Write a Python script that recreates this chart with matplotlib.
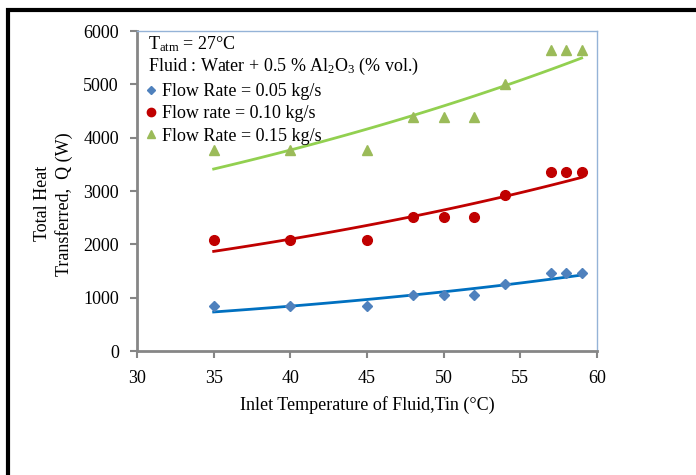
import matplotlib.pyplot as plt
import numpy as np
from matplotlib.lines import Line2D
from matplotlib.patches import Rectangle

plt.rcParams['font.family'] = 'Liberation Serif'
plt.rcParams['mathtext.fontset'] = 'custom'
plt.rcParams['mathtext.rm'] = 'Liberation Serif'
plt.rcParams['mathtext.it'] = 'Liberation Serif:italic'

# data
inlet_temp = [35, 40, 45, 48, 50, 52, 54, 57, 58, 59]
q_005 = [835, 835, 835, 1050, 1050, 1050, 1250, 1470, 1470, 1470]
q_010 = [2090, 2090, 2090, 2510, 2510, 2510, 2930, 3350, 3350, 3350]
q_015 = [3760, 3760, 3760, 4390, 4390, 4390, 5000, 5640, 5640, 5640]
x_ticks = [30, 35, 40, 45, 50, 55, 60]
y_ticks = [0, 1000, 2000, 3000, 4000, 5000, 6000]

series = [
    (q_005, 'D', '#4F81BD', '#0070C0', 'Flow Rate = 0.05 kg/s', 5),
    (q_010, 'o', '#C00000', '#C00000', 'Flow rate = 0.10 kg/s', 7),
    (q_015, '^', '#9BBB59', '#92D050', 'Flow Rate = 0.15 kg/s', 7),
]

fig = plt.figure(figsize=(6.96, 4.75), dpi=100)
ax = fig.add_axes([137 / 696, 1 - 351 / 475, 460 / 696, 320 / 475])

x = np.array(inlet_temp, dtype=float)
handles = []
for vals, mk, mcol, lcol, lab, ms in series:
    y = np.array(vals, dtype=float)
    # exponential trendline, like the spreadsheet one
    b, a = np.polyfit(x, np.log(y), 1)
    xf = np.linspace(x.min(), x.max(), 100)
    ax.plot(xf, np.exp(a + b * xf), color=lcol, linewidth=2, zorder=2)
    ax.plot(x, y, linestyle='none', marker=mk, markersize=ms,
            color=mcol, markeredgecolor=mcol, zorder=3)
    handles.append(Line2D([], [], linestyle='none', marker=mk, markersize=ms - 1,
                          color=mcol, label=lab))

ax.set_xlim(30, 60)
ax.set_ylim(0, 6000)
ax.set_xticks(x_ticks)
ax.set_yticks(y_ticks)
ax.tick_params(direction='out', length=5, width=1.5, color='#868686',
               labelsize=13)
ax.tick_params(axis='y', pad=8)
ax.tick_params(axis='x', pad=9)

for s in ['left', 'bottom']:
    ax.spines[s].set_color('#868686')
    ax.spines[s].set_linewidth(2)
for s in ['top', 'right']:
    ax.spines[s].set_color('#95B3D7')
    ax.spines[s].set_linewidth(1)

ax.set_xlabel('Inlet Temperature of Fluid,Tin (°C)', fontsize=13, labelpad=6)
ax.set_ylabel('Total Heat\nTransferred,  Q (W)', fontsize=13,
              linespacing=1.25)
ax.yaxis.set_label_coords(-0.14, 0.46)

ax.text(0.025, 0.959, r'T$_{\rm atm}$ = 27°C', transform=ax.transAxes,
        fontsize=13, va='center', ha='left')
ax.text(0.025, 0.889, r'Fluid : Water + 0.5 % Al$_{\rm 2}$O$_{\rm 3}$ (% vol.)',
        transform=ax.transAxes, fontsize=13, va='center', ha='left')
ax.legend(handles=handles, loc='upper left', bbox_to_anchor=(0.0, 0.866),
          frameon=False, fontsize=13, handlelength=0.6, handletextpad=0.3,
          borderaxespad=0.3, labelspacing=0.3, borderpad=0.2)

# black frame around the figure
fig.patches.append(Rectangle((7.5 / 696, -0.1), 2, 1.1 - 10.5 / 475,
                             transform=fig.transFigure, fill=False,
                             edgecolor='black', linewidth=3))

fig.savefig('out.png', dpi=100)
